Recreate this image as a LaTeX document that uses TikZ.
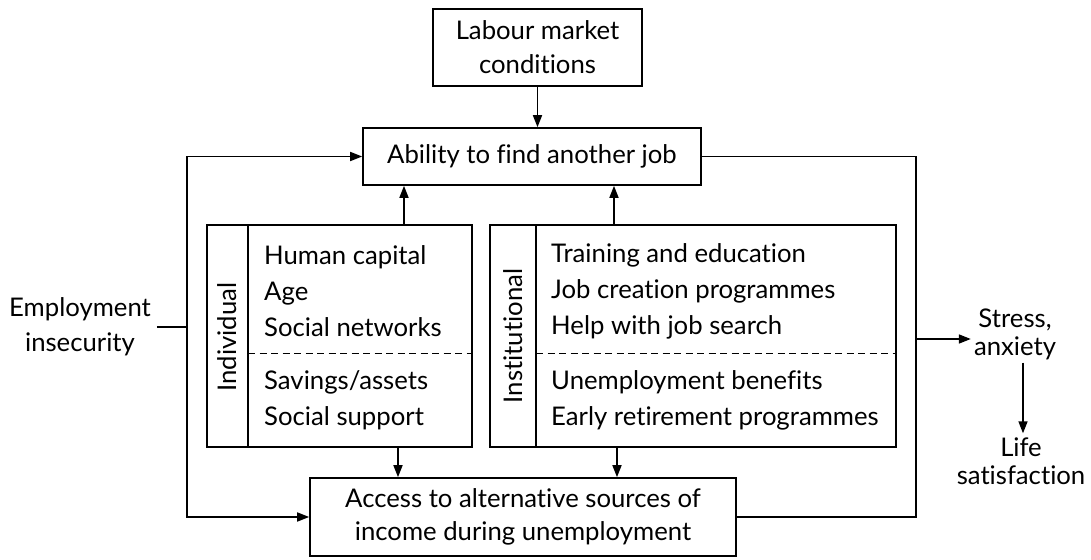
\documentclass[tikz,border=0pt]{standalone}
\usepackage{fontspec}
\setmainfont{Lato}[Ligatures=NoCommon]
\usetikzlibrary{arrows.meta}
\newcommand{\fsz}[1]{\fontsize{25.7}{#1}\selectfont}
\tikzset{
  box/.style={draw, line width=1.6pt, inner sep=0pt, align=center},
  ln/.style={line width=1.6pt},
  arr/.style={line width=1.6pt, -{Triangle[length=12pt,width=9pt]}},
  txt/.style={inner sep=0pt, font=\fsz{36}},
  dsh/.style={line width=1.3pt, dash pattern=on 7pt off 4.5pt},
}
\begin{document}
\begin{tikzpicture}[x=1pt,y=-1pt]
\useasboundingbox (0,0) rectangle (1091,559);
% boxes
\node[box, minimum width=209pt, minimum height=77pt, font=\fsz{34}] (lab) at (537.5,47.5) {Labour market\\conditions};
\node[box, minimum width=338pt, minimum height=57pt, font=\fsz{34}] (abl) at (532,156.5) {Ability to find another job};
\node[box, minimum width=265pt, minimum height=222pt] (ind) at (339.5,336) {};
\node[box, minimum width=406pt, minimum height=222pt] (ins) at (693,336) {};
\node[box, minimum width=426pt, minimum height=78pt, font=\fsz{33}] (acc) at (523,517) {Access to alternative sources of\\income during unemployment};
% inner dividers
\draw[ln] ([xshift=42pt]ind.north west) -- ([xshift=42pt]ind.south west);
\draw[ln] ([xshift=47pt]ins.north west) -- ([xshift=47pt]ins.south west);
\draw[dsh] ([xshift=42pt,yshift=-129pt]ind.north west) -- ([yshift=-129pt]ind.north east);
\draw[dsh] ([xshift=47pt,yshift=-129pt]ins.north west) -- ([yshift=-129pt]ins.north east);
% side labels
\node[txt, rotate=90] (indl) at (227,337) {Individual};
\node[txt, rotate=90] (insl) at (513,336) {Institutional};
% lists
\node[txt, anchor=west, align=left] (i1) at (264,291) {Human capital\\Age\\Social networks};
\node[txt, anchor=west, align=left] (i2) at (264,400.5) {Savings/assets\\Social support};
\node[txt, anchor=west, align=left] (s1) at (551,291) {Training and education\\Job creation programmes\\Help with job search};
\node[txt, anchor=west, align=left] (s2) at (551,400.5) {Unemployment benefits\\Early retirement programmes};
% outside texts
\node[txt, align=center, font=\fsz{35}, inner sep=6pt] (emp) at (80,327) {Employment\\insecurity};
\node[txt, align=center, font=\fsz{28}, inner sep=3pt] (str) at (1015,334) {Stress,\\anxiety};
\node[txt, align=center, font=\fsz{28}, inner sep=4pt] (life) at (1021,461) {Life\\satisfaction};
% coordinates
\coordinate (lx) at (187,0);
\coordinate (rx) at (916,0);
\coordinate (ry) at (0,339);
\coordinate (u1) at (404,0);
\coordinate (u2) at (614,0);
\coordinate (d1) at (398,0);
\coordinate (d2) at (617,0);
\coordinate (sl) at (1023,0);
% connectors
\draw[arr] (lab.south) -- (lab.south |- abl.north);
\draw[arr] (u1 |- ind.north) -- (u1 |- abl.south);
\draw[arr] (u2 |- ins.north) -- (u2 |- abl.south);
\draw[arr] (d1 |- ind.south) -- (d1 |- acc.north);
\draw[arr] (d2 |- ins.south) -- (d2 |- acc.north);
\draw[ln] (emp.east) -- (emp.east -| lx);
\draw[arr] (lx |- emp.east) |- (abl.west);
\draw[arr] (lx |- emp.east) |- (acc.west);
\draw[ln] (abl.east) -| (rx |- acc.east) -- (acc.east);
\draw[arr] (rx |- ry) -- (str.west |- ry);
\draw[arr] (sl |- str.south) -- (sl |- life.north);
\end{tikzpicture}
\end{document}
